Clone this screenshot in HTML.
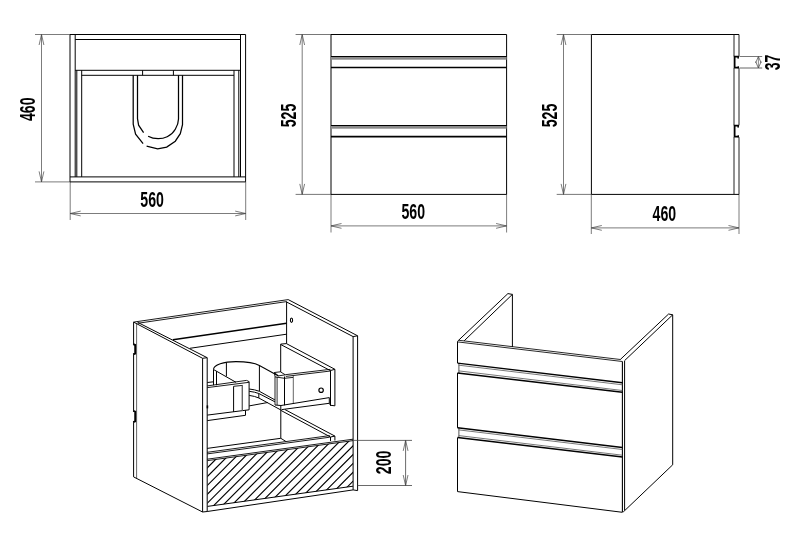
<!DOCTYPE html>
<html lang="en"><head><meta charset="utf-8"><title>Cabinet drawing 560 x 460 x 525</title>
<style>
html,body{margin:0;padding:0;background:#fff;}
body{width:800px;height:547px;overflow:hidden;font-family:"Liberation Sans",sans-serif;}
svg{display:block;font-family:"Liberation Sans",sans-serif;}
</style></head><body>
<svg width="800" height="547" viewBox="0 0 800 547">
<rect width="800" height="547" fill="#fff"/>
<g opacity="0.999">
<line x1="35" y1="34.5" x2="70" y2="34.5" stroke="#5a5a5a" stroke-width="0.8" />
<line x1="35" y1="181.9" x2="70" y2="181.9" stroke="#5a5a5a" stroke-width="0.8" />
<line x1="41.5" y1="34.5" x2="41.5" y2="181.9" stroke="#5a5a5a" stroke-width="0.8" />
<path d="M43.9 45.0 L41.5 34.5 L39.1 45.0" stroke="#444" stroke-width="0.7" fill="none" />
<path d="M39.1 171.4 L41.5 181.9 L43.9 171.4" stroke="#444" stroke-width="0.7" fill="none" />
<line x1="70.2" y1="182" x2="70.2" y2="220" stroke="#5a5a5a" stroke-width="0.8" />
<line x1="245.7" y1="182" x2="245.7" y2="220" stroke="#5a5a5a" stroke-width="0.8" />
<line x1="70.2" y1="213.5" x2="245.7" y2="213.5" stroke="#5a5a5a" stroke-width="0.8" />
<path d="M80.7 211.1 L70.2 213.5 L80.7 215.9" stroke="#444" stroke-width="0.7" fill="none" />
<path d="M235.2 215.9 L245.7 213.5 L235.2 211.1" stroke="#444" stroke-width="0.7" fill="none" />
<path d="M70.0 181.9 L70.0 34.5 L245.6 34.5 L245.6 181.9" stroke="#000" stroke-width="1" fill="none" />
<line x1="70.0" y1="181.9" x2="245.6" y2="181.9" stroke="#000" stroke-width="1" />
<line x1="70.0" y1="176.9" x2="245.6" y2="176.9" stroke="#000" stroke-width="1" />
<line x1="75.2" y1="34.5" x2="75.2" y2="176.9" stroke="#000" stroke-width="1" />
<line x1="240.5" y1="34.5" x2="240.5" y2="176.9" stroke="#000" stroke-width="1" />
<line x1="75.2" y1="39.5" x2="240.5" y2="39.5" stroke="#000" stroke-width="1" />
<line x1="75.2" y1="70.3" x2="240.5" y2="70.3" stroke="#000" stroke-width="1" />
<line x1="81.7" y1="75.3" x2="234" y2="75.3" stroke="#000" stroke-width="1" />
<line x1="76.8" y1="70.3" x2="76.8" y2="176.9" stroke="#000" stroke-width="1" />
<line x1="81.7" y1="70.3" x2="81.7" y2="176.9" stroke="#000" stroke-width="1" />
<line x1="234" y1="70.3" x2="234" y2="176.9" stroke="#000" stroke-width="1" />
<line x1="238.8" y1="70.3" x2="238.8" y2="176.9" stroke="#000" stroke-width="1" />
<line x1="142.6" y1="70.3" x2="142.6" y2="75.3" stroke="#000" stroke-width="1" />
<line x1="173.4" y1="70.3" x2="173.4" y2="75.3" stroke="#000" stroke-width="1" />
<path d="M133.2 75.3 L133.2 124.1 L135.6 134.2 L143.1 143.7" stroke="#000" stroke-width="1.25" fill="none" />
<path d="M146.6 146.1 L157.7 148.8 L166.7 147.1 L175.3 141.2 L180.3 133.7 L182.5 124.6 L182.5 75.3" stroke="#000" stroke-width="1.25" fill="none" />
<path d="M137.5 75.3 L137.5 118.6 L138.6 125.2 L143.6 132.7" stroke="#000" stroke-width="1.25" fill="none" />
<path d="M148.1 136.2 C151 137.8 154.5 138.7 158.2 138.7 C161.5 138.7 164.5 138 167.2 136.7 C170.8 135 173.4 132.5 175.3 129.2 C177.3 125.8 178.5 122.5 178.5 119.1 L178.5 75.3" stroke="#000" stroke-width="1.25" fill="none" />
<text transform="translate(27.4 109.2) rotate(-90) scale(0.655 1)" x="0" y="7.73" text-anchor="middle" font-size="21.6" font-weight="bold" fill="#000">460</text>
<text transform="translate(152.1 199.4) scale(0.655 1)" x="0" y="7.73" text-anchor="middle" font-size="21.6" font-weight="bold" fill="#000">560</text>
<line x1="295.6" y1="34.5" x2="331" y2="34.5" stroke="#555" stroke-width="0.8" />
<line x1="295.6" y1="194.4" x2="331" y2="194.4" stroke="#555" stroke-width="0.8" />
<line x1="302.2" y1="34.5" x2="302.2" y2="194.4" stroke="#5a5a5a" stroke-width="0.8" />
<path d="M304.6 45.0 L302.2 34.5 L299.8 45.0" stroke="#444" stroke-width="0.7" fill="none" />
<path d="M299.8 183.9 L302.2 194.4 L304.6 183.9" stroke="#444" stroke-width="0.7" fill="none" />
<line x1="331.0" y1="194.3" x2="331.0" y2="232.5" stroke="#5a5a5a" stroke-width="0.8" />
<line x1="506.6" y1="194.3" x2="506.6" y2="232.5" stroke="#5a5a5a" stroke-width="0.8" />
<line x1="331.0" y1="225.9" x2="506.6" y2="225.9" stroke="#5a5a5a" stroke-width="0.8" />
<path d="M341.5 223.5 L331.0 225.9 L341.5 228.3" stroke="#444" stroke-width="0.7" fill="none" />
<path d="M496.1 228.3 L506.6 225.9 L496.1 223.5" stroke="#444" stroke-width="0.7" fill="none" />
<path d="M331.0 34.5 L506.6 34.5 L506.6 194.4 L331.0 194.4 Z" stroke="#000" stroke-width="1" fill="none" />
<rect x="331" y="57.0" width="175.6" height="2.7" fill="#8c8c8c"/>
<line x1="331.0" y1="56.5" x2="506.6" y2="56.5" stroke="#000" stroke-width="1.1" />
<rect x="331" y="126.0" width="175.6" height="2.7" fill="#8c8c8c"/>
<line x1="331.0" y1="125.5" x2="506.6" y2="125.5" stroke="#000" stroke-width="1.1" />
<line x1="331.0" y1="67.5" x2="506.6" y2="67.5" stroke="#000" stroke-width="1.6" />
<line x1="331.0" y1="136.6" x2="506.6" y2="136.6" stroke="#000" stroke-width="1.6" />
<text transform="translate(288 115.5) rotate(-90) scale(0.655 1)" x="0" y="7.73" text-anchor="middle" font-size="21.6" font-weight="bold" fill="#000">525</text>
<text transform="translate(413.2 211.6) scale(0.655 1)" x="0" y="7.73" text-anchor="middle" font-size="21.6" font-weight="bold" fill="#000">560</text>
<line x1="556.7" y1="34.5" x2="591" y2="34.5" stroke="#555" stroke-width="0.8" />
<line x1="556.7" y1="194.4" x2="591" y2="194.4" stroke="#555" stroke-width="0.8" />
<line x1="563.5" y1="34.5" x2="563.5" y2="194.4" stroke="#5a5a5a" stroke-width="0.8" />
<path d="M565.9 45.0 L563.5 34.5 L561.1 45.0" stroke="#444" stroke-width="0.7" fill="none" />
<path d="M561.1 183.9 L563.5 194.4 L565.9 183.9" stroke="#444" stroke-width="0.7" fill="none" />
<line x1="591.3" y1="194.3" x2="591.3" y2="234" stroke="#5a5a5a" stroke-width="0.8" />
<line x1="739" y1="194.3" x2="739" y2="234" stroke="#5a5a5a" stroke-width="0.8" />
<line x1="591.3" y1="227.9" x2="739" y2="227.9" stroke="#5a5a5a" stroke-width="0.8" />
<path d="M601.8 225.5 L591.3 227.9 L601.8 230.3" stroke="#444" stroke-width="0.7" fill="none" />
<path d="M728.5 230.3 L739 227.9 L728.5 225.5" stroke="#444" stroke-width="0.7" fill="none" />
<path d="M739 34.5 L591.4 34.5 L591.4 194.4 L739 194.4" stroke="#000" stroke-width="1" fill="none" />
<line x1="734" y1="34.5" x2="734" y2="56.3" stroke="#222" stroke-width="1" />
<line x1="739" y1="34.5" x2="739" y2="56.3" stroke="#222" stroke-width="1" />
<line x1="734" y1="68.2" x2="734" y2="125.3" stroke="#222" stroke-width="1" />
<line x1="739" y1="68.2" x2="739" y2="125.3" stroke="#222" stroke-width="1" />
<line x1="734" y1="137.2" x2="734" y2="194.4" stroke="#222" stroke-width="1" />
<line x1="739" y1="137.2" x2="739" y2="194.4" stroke="#222" stroke-width="1" />
<path d="M738.9 56.6 L734.6 56.6 L734.6 67.7 L738.9 67.7" stroke="#000" stroke-width="1.8" fill="none" />
<rect x="737.4" y="56.0" width="1.5" height="2.6" fill="#000"/>
<rect x="737.6" y="66.3" width="1.3" height="2" fill="#000"/>
<path d="M738.9 125.6 L734.6 125.6 L734.6 136.7 L738.9 136.7" stroke="#000" stroke-width="1.8" fill="none" />
<rect x="737.4" y="125.0" width="1.5" height="2.6" fill="#000"/>
<rect x="737.6" y="135.29999999999998" width="1.3" height="2" fill="#000"/>
<line x1="739.5" y1="56.5" x2="762.2" y2="56.5" stroke="#555" stroke-width="0.8" />
<line x1="739.5" y1="68.0" x2="762.2" y2="68.0" stroke="#555" stroke-width="0.9" />
<line x1="758.4" y1="56.5" x2="758.4" y2="68" stroke="#5a5a5a" stroke-width="0.7" />
<path d="M761.2 63.0 L758.4 56.5 L755.6 63.0" stroke="#444" stroke-width="0.7" fill="none" />
<path d="M755.6 61.5 L758.4 68 L761.2 61.5" stroke="#444" stroke-width="0.7" fill="none" />
<text transform="translate(772.7 62.4) rotate(-90) scale(0.655 1)" x="0" y="7.73" text-anchor="middle" font-size="21.6" font-weight="bold" fill="#000">37</text>
<text transform="translate(549.3 115.5) rotate(-90) scale(0.655 1)" x="0" y="7.73" text-anchor="middle" font-size="21.6" font-weight="bold" fill="#000">525</text>
<text transform="translate(664.4 213.4) scale(0.655 1)" x="0" y="7.73" text-anchor="middle" font-size="21.6" font-weight="bold" fill="#000">460</text>
<line x1="457.5" y1="341.4" x2="457.5" y2="363.0" stroke="#000" stroke-width="1" />
<line x1="457.5" y1="373.0" x2="457.5" y2="427.8" stroke="#000" stroke-width="1" />
<line x1="457.5" y1="437.7" x2="457.5" y2="491.6" stroke="#000" stroke-width="1" />
<line x1="458.9" y1="363.0" x2="458.9" y2="373.0" stroke="#555" stroke-width="1" />
<line x1="458.9" y1="427.8" x2="458.9" y2="437.7" stroke="#555" stroke-width="1" />
<path d="M457.5 491.6 L622.4 512.3" stroke="#000" stroke-width="1" fill="none" />
<line x1="622.4" y1="361.4" x2="622.4" y2="512.3" stroke="#000" stroke-width="1.1" />
<line x1="624.6" y1="360.8" x2="624.6" y2="510.2" stroke="#000" stroke-width="1" />
<path d="M457.5 341.9 L622.4 361.5" stroke="#000" stroke-width="0.85" fill="none" />
<path d="M459.0 340.3 L620.4 359.5" stroke="#000" stroke-width="0.85" fill="none" />
<path d="M457.5 363.1 L622.4 382.81" stroke="#000" stroke-width="1.4" fill="none" />
<path d="M458.8 365.20000000000005 L622.4 384.81" stroke="#555" stroke-width="0.8" fill="none" />
<path d="M458.8 370.9 L622.4 390.51" stroke="#555" stroke-width="0.8" fill="none" />
<path d="M457.5 372.9 L622.4 392.31" stroke="#000" stroke-width="1.5" fill="none" />
<path d="M457.5 427.8 L622.4 447.51" stroke="#000" stroke-width="1.4" fill="none" />
<path d="M458.8 429.90000000000003 L622.4 449.51" stroke="#555" stroke-width="0.8" fill="none" />
<path d="M458.8 435.6 L622.4 455.21" stroke="#555" stroke-width="0.8" fill="none" />
<path d="M457.5 437.6 L622.4 457.01" stroke="#000" stroke-width="1.5" fill="none" />
<path d="M457.6 341.2 L507.9 293.6 L512.4 294.4 L464.2 340.8" stroke="#000" stroke-width="1" fill="none" />
<line x1="512.4" y1="294.4" x2="512.4" y2="347.0" stroke="#000" stroke-width="1" />
<path d="M620.2 359.6 L668.6 314.0 L672.7 314.8 L624.6 360.6" stroke="#000" stroke-width="1" fill="none" />
<path d="M672.7 314.8 L672.7 464.8 L623.2 512.0" stroke="#000" stroke-width="1" fill="none" />
<line x1="133.6" y1="322.1" x2="133.6" y2="344.2" stroke="#000" stroke-width="1" />
<line x1="133.6" y1="354.3" x2="133.6" y2="410.9" stroke="#000" stroke-width="1" />
<line x1="133.6" y1="422.2" x2="133.6" y2="476.9" stroke="#000" stroke-width="1" />
<line x1="136.6" y1="323.6" x2="136.6" y2="478.4" stroke="#666" stroke-width="1" />
<path d="M133.2 344.2 L135.2 345.0 L135.2 353.5 L133.2 354.3" stroke="#000" stroke-width="1.9" fill="none" />
<path d="M133.2 410.9 L135.2 411.7 L135.2 421.4 L133.2 422.2" stroke="#000" stroke-width="1.9" fill="none" />
<path d="M133.6 322.1 L202.6 358.3" stroke="#000" stroke-width="1" fill="none" />
<path d="M137.6 322.3 L207.2 357.7" stroke="#000" stroke-width="1" fill="none" />
<path d="M202.6 358.3 L207.2 357.7" stroke="#000" stroke-width="1" fill="none" />
<line x1="202.6" y1="358.3" x2="202.6" y2="512" stroke="#000" stroke-width="1" />
<line x1="207.2" y1="357.7" x2="207.2" y2="511.5" stroke="#000" stroke-width="1" />
<path d="M133.6 476.9 L202.6 512 L207.2 511.5" stroke="#000" stroke-width="1" fill="none" />
<path d="M133.6 322.1 L288.2 299.6" stroke="#000" stroke-width="0.9" fill="none" />
<path d="M137.6 323.3 L286.6 301.6" stroke="#000" stroke-width="0.9" fill="none" />
<path d="M172.9 339.8 L286.6 323.2" stroke="#000" stroke-width="1.4" fill="none" />
<path d="M189.9 348.3 L286.6 334.2" stroke="#000" stroke-width="1.0" fill="none" />
<path d="M288.2 299.6 L357.6 335.8" stroke="#000" stroke-width="1" fill="none" />
<path d="M286.6 302 L353.1 336.6" stroke="#000" stroke-width="1" fill="none" />
<path d="M353.1 336.6 L357.6 335.8" stroke="#000" stroke-width="1" fill="none" />
<line x1="353.1" y1="336.6" x2="353.1" y2="489.9" stroke="#000" stroke-width="1" />
<line x1="357.6" y1="335.8" x2="357.6" y2="490.6" stroke="#000" stroke-width="1" />
<line x1="286.6" y1="301.6" x2="286.6" y2="343.6" stroke="#000" stroke-width="1" />
<ellipse cx="291.5" cy="320.2" rx="1.1" ry="2.2" fill="none" stroke="#000" stroke-width="1.1"/>
<path d="M280.7 372 L280.7 344.1 L286.4 343.6 L334.9 369.3" stroke="#000" stroke-width="1" fill="none" />
<path d="M280.7 344.5 L330.5 370.7" stroke="#000" stroke-width="1" fill="none" />
<path d="M330.5 405.8 L330.5 370.5 L334.9 369.3 L334.9 405.8 L330.5 405.3" stroke="#000" stroke-width="1" fill="none" />
<path d="M285.3 374.7 L330.5 369.3" stroke="#000" stroke-width="0.9" fill="none" />
<path d="M285.8 376.4 L330.5 371" stroke="#000" stroke-width="0.9" fill="none" />
<line x1="275.0" y1="376.6" x2="275.0" y2="405" stroke="#777" stroke-width="1.6" />
<line x1="277.1" y1="377" x2="277.1" y2="405" stroke="#333" stroke-width="1" />
<line x1="284.5" y1="376.5" x2="284.5" y2="405.3" stroke="#000" stroke-width="1" />
<line x1="293.3" y1="376" x2="293.3" y2="403.5" stroke="#666" stroke-width="1" />
<path d="M275 376.6 L274.4 372.5 L280.4 371.8 L285.3 374.8 L278.5 375.9 L274.4 372.5" stroke="#000" stroke-width="0.9" fill="none" />
<path d="M275 376.9 L284.5 378.3 L293.1 377.4" stroke="#000" stroke-width="0.9" fill="none" />
<circle cx="321.1" cy="390.2" r="2.2" fill="none" stroke="#000" stroke-width="1.2"/>
<path d="M275 405 L281 405.5 L329.3 397.6" stroke="#000" stroke-width="1" fill="none" />
<path d="M281.6 409.6 L329.3 403.3 L330.5 405.3" stroke="#000" stroke-width="1" fill="none" />
<line x1="329.3" y1="397.6" x2="329.3" y2="403.3" stroke="#000" stroke-width="1" />
<path d="M213.5 369.6 C213.5 364.5 224 361.6 236 361.6 C246 361.6 254.5 362.8 259.4 365.4 L278.5 375.9" stroke="#000" stroke-width="1.1" fill="none" />
<line x1="226.4" y1="362.5" x2="226.4" y2="376.4" stroke="#000" stroke-width="1" />
<line x1="259.4" y1="365.4" x2="259.4" y2="391.2" stroke="#000" stroke-width="1" />
<line x1="213.5" y1="369.5" x2="213.5" y2="385.2" stroke="#000" stroke-width="1" />
<line x1="216.5" y1="371.2" x2="216.5" y2="385.2" stroke="#000" stroke-width="1" />
<path d="M213.5 369.5 L236 382.3" stroke="#000" stroke-width="1" fill="none" />
<path d="M207.3 382.5 L213.5 381.8" stroke="#000" stroke-width="1" fill="none" />
<path d="M207.3 385.9 L246.5 380.4 L249.1 381.6" stroke="#000" stroke-width="0.9" fill="none" />
<path d="M207.3 387.6 L249.1 382.3" stroke="#000" stroke-width="0.9" fill="none" />
<path d="M249.1 381.6 L249.1 409.8 L207.3 415.1" stroke="#000" stroke-width="1" fill="none" />
<line x1="233.6" y1="386.3" x2="233.6" y2="411.9" stroke="#000" stroke-width="1" />
<path d="M233.6 386.3 L242.8 385.4" stroke="#000" stroke-width="0.9" fill="none" />
<line x1="242.3" y1="385.2" x2="242.3" y2="410.8" stroke="#666" stroke-width="1.4" />
<path d="M245.5 410.4 L245.5 415.3 L207.3 420.6" stroke="#000" stroke-width="1" fill="none" />
<line x1="207.4" y1="405.4" x2="207.4" y2="408.4" stroke="#000" stroke-width="1.6" />
<path d="M249.2 389 Q255 389.6 259.4 391.3 L274.9 399.9" stroke="#000" stroke-width="1" fill="none" />
<path d="M249.2 391.3 Q255 392 258.8 393.5 L274.9 401.8" stroke="#000" stroke-width="1" fill="none" />
<path d="M249.2 395.4 Q255 396.2 258.8 398 L280.9 410" stroke="#000" stroke-width="1" fill="none" />
<line x1="258.8" y1="393.5" x2="258.8" y2="398" stroke="#000" stroke-width="1" />
<path d="M249.2 405.9 L267.8 402.5" stroke="#000" stroke-width="1" fill="none" />
<line x1="280.8" y1="405.5" x2="280.8" y2="438.3" stroke="#000" stroke-width="1" />
<path d="M285 409.6 L334.9 436.1" stroke="#000" stroke-width="1" fill="none" />
<path d="M280.9 410.4 L330.5 437" stroke="#000" stroke-width="1" fill="none" />
<path d="M330.5 441 L330.5 437 L334.9 436.1 L334.9 440.5" stroke="#000" stroke-width="1" fill="none" />
<path d="M207.2 448.4 L280.8 438.3 L285.8 441.4" stroke="#000" stroke-width="1" fill="none" />
<path d="M207.2 452.3 L329.8 435.6" stroke="#000" stroke-width="0.9" fill="none" />
<path d="M207.2 453.9 L329.8 437.2" stroke="#000" stroke-width="0.9" fill="none" />
<path d="M207.2 459.2 L353.1 439.2" stroke="#000" stroke-width="0.9" fill="none" />
<path d="M207.5 460.6 L353.1 440.6" stroke="#000" stroke-width="0.9" fill="none" />
<path d="M207.5 506.4 L353.1 486.2" stroke="#000" stroke-width="1" fill="none" />
<path d="M207.2 511.5 L353.1 489.9 L357.6 490.6" stroke="#000" stroke-width="1" fill="none" />
<clipPath id="hc"><path d="M207.5 460.6 L353.1 440.6 L353.1 486.2 L207.5 506.4 Z"/></clipPath>
<path clip-path="url(#hc)" d="M150 480.88 L400 230.88 M150 489.72 L400 239.72 M150 498.56 L400 248.56 M150 507.40 L400 257.40 M150 516.24 L400 266.24 M150 525.08 L400 275.08 M150 533.92 L400 283.92 M150 542.76 L400 292.76 M150 551.60 L400 301.60 M150 560.44 L400 310.44 M150 569.28 L400 319.28 M150 578.12 L400 328.12 M150 586.96 L400 336.96 M150 595.80 L400 345.80 M150 604.64 L400 354.64 M150 613.48 L400 363.48 M150 622.32 L400 372.32 M150 631.16 L400 381.16 M150 640.00 L400 390.00 M150 648.84 L400 398.84 M150 657.68 L400 407.68 M150 666.52 L400 416.52 M150 675.36 L400 425.36 M150 684.20 L400 434.20 M150 693.04 L400 443.04 M150 701.88 L400 451.88" stroke="#000" stroke-width="1.15" fill="none"/>
<line x1="353.1" y1="440.4" x2="412" y2="440.4" stroke="#444" stroke-width="0.8" />
<line x1="357.6" y1="485.5" x2="412" y2="485.5" stroke="#444" stroke-width="0.8" />
<line x1="405.6" y1="440.4" x2="405.6" y2="485.5" stroke="#444" stroke-width="0.8" />
<path d="M408.0 450.9 L405.6 440.4 L403.2 450.9" stroke="#444" stroke-width="0.7" fill="none" />
<path d="M403.2 475.0 L405.6 485.5 L408.0 475.0" stroke="#444" stroke-width="0.7" fill="none" />
<text transform="translate(382.9 462.4) rotate(-90) scale(0.655 1)" x="0" y="7.73" text-anchor="middle" font-size="21.6" font-weight="bold" fill="#000">200</text>
</g>
</svg>
</body></html>
